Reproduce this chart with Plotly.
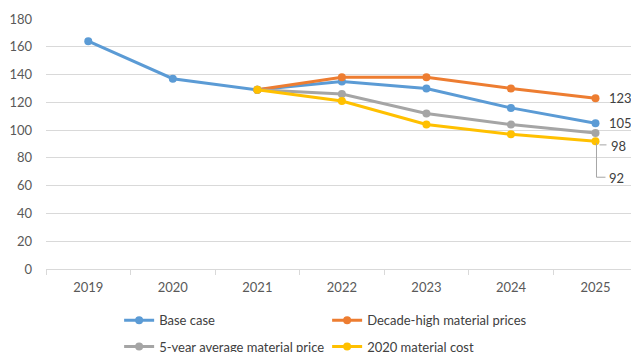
import plotly.graph_objects as go

years = ["2019", "2020", "2021", "2022", "2023", "2024", "2025"]
base_case = [164, 137, 129, 135, 130, 116, 105]
decade_high = [None, None, 129, 138, 138, 130, 123]
five_year_avg = [None, None, 129, 126, 112, 104, 98]
cost_2020 = [None, None, 129, 121, 104, 97, 92]

series = [
    ("Base case", base_case, "#5B9BD5", "legend"),
    ("Decade-high material prices", decade_high, "#ED7D31", "legend"),
    ("5-year average material price", five_year_avg, "#A5A5A5", "legend2"),
    ("2020 material cost", cost_2020, "#FFC000", "legend2"),
]

FONT = "Lato, 'Open Sans', sans-serif"
TEXT = "#404040"

fig = go.Figure()
for name, vals, color, lg in series:
    fig.add_trace(go.Scatter(
        x=years, y=vals, name=name, mode="lines+markers",
        line=dict(color=color, width=3),
        marker=dict(color=color, size=8),
        legend=lg, connectgaps=False,
    ))

# value labels at the last year
last = len(years) - 1
labels = [
    (decade_high[last], 25, 0),
    (base_case[last], 25, 0),
    (five_year_avg[last], 23, -13),
    (cost_2020[last], 21, -37),
]
for val, dx, dy in labels:
    fig.add_annotation(
        x=last, y=val, text=str(val), showarrow=False,
        xshift=dx, yshift=dy, font=dict(family=FONT, size=13, color=TEXT),
    )

# leader lines for the two lower labels
lead = dict(color="#A6A6A6", width=1)
fig.add_shape(type="line", xref="x", yref="y", xsizemode="pixel", ysizemode="pixel",
              xanchor=last, yanchor=five_year_avg[last],
              x0=4, x1=11, y0=-12, y1=-12, line=lead)
fig.add_shape(type="line", xref="x", yref="y", xsizemode="pixel", ysizemode="pixel",
              xanchor=last, yanchor=cost_2020[last],
              x0=1, x1=1, y0=-2, y1=-36, line=lead)
fig.add_shape(type="line", xref="x", yref="y", xsizemode="pixel", ysizemode="pixel",
              xanchor=last, yanchor=cost_2020[last],
              x0=1, x1=10, y0=-36, y1=-36, line=lead)

legend_common = dict(
    orientation="h", xanchor="left", yanchor="middle",
    font=dict(family=FONT, size=13, color=TEXT),
    entrywidth=163, entrywidthmode="pixels", itemwidth=30,
    bgcolor="rgba(0,0,0,0)",
)
fig.update_layout(
    width=631, height=352,
    margin=dict(l=46, r=0, t=19, b=83, autoexpand=False),
    paper_bgcolor="white", plot_bgcolor="white",
    font=dict(family=FONT, size=13, color="#595959"),
    legend=dict(x=0.125, y=-0.205, **legend_common),
    legend2=dict(x=0.125, y=-0.31, **legend_common),
    xaxis=dict(
        type="category", range=[-0.5, 6.42],
        showgrid=False, showline=True, linecolor="#D9D9D9", linewidth=1,
        ticks="outside", tickson="boundaries", ticklen=5, tickcolor="#D9D9D9",
        tickfont=dict(family=FONT, size=13, color="#595959"),
        ticklabelstandoff=6,
    ),
    yaxis=dict(
        range=[0, 180], dtick=20, showgrid=True, gridcolor="#D9D9D9", gridwidth=1,
        zeroline=False, showline=False,
        tickfont=dict(family=FONT, size=13, color="#595959"),
        ticklabelstandoff=13,
    ),
)

fig.write_html("out.html")
